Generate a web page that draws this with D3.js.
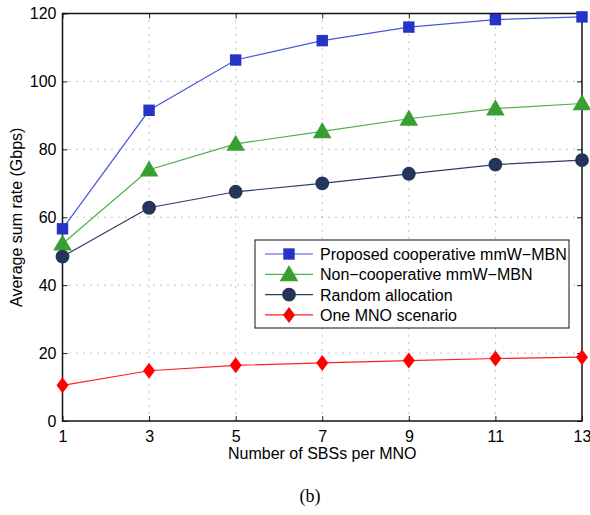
<!DOCTYPE html>
<html>
<head>
<meta charset="utf-8">
<script src="https://cdn.jsdelivr.net/npm/d3@7"></script>
<style>
  body { margin: 0; background: #fff; }
  text { font-family: "Liberation Sans", Arial, sans-serif; }
</style>
</head>
<body>
<svg width="590" height="515"></svg>
<script>
const xValues = [1, 3, 5, 7, 9, 11, 13];
const proposed = [56.6, 91.5, 106.3, 112, 116, 118.2, 119];
const nonCoop = [52.2, 74, 81.6, 85.3, 89, 92, 93.5];
const randomAlloc = [48.4, 62.8, 67.5, 70, 72.8, 75.5, 76.8];
const oneMno = [10.5, 14.8, 16.4, 17.1, 17.8, 18.4, 18.8];
const yTicks = [0, 20, 40, 60, 80, 100, 120];
const seriesNames = [
  "Proposed cooperative mmW\u2212MBN",
  "Non\u2212cooperative mmW\u2212MBN",
  "Random allocation",
  "One MNO scenario",
];

const series = [
  { name: seriesNames[0], values: proposed, line: "#4a56de", fill: "#2633c9", marker: "square" },
  { name: seriesNames[1], values: nonCoop, line: "#4fae48", fill: "#3a9f33", marker: "triangle" },
  { name: seriesNames[2], values: randomAlloc, line: "#2d3d60", fill: "#233559", marker: "circle" },
  { name: seriesNames[3], values: oneMno, line: "#ff2020", fill: "#ff0000", marker: "diamond" },
];

const svg = d3.select("svg");
const margin = { left: 62.5, right: 8, top: 13.5, bottom: 94 };
const width = 590, height = 515;
const inner = {
  width: width - margin.left - margin.right,
  height: height - margin.top - margin.bottom,
};

const xScale = d3.scaleLinear().domain([1, 13]).range([0, inner.width]);
const yScale = d3.scaleLinear().domain([0, 120]).range([inner.height, 0]);

const g = svg.append("g").attr("transform", `translate(${margin.left},${margin.top})`);

// dotted grid
g.append("g")
  .selectAll("line")
  .data(xValues.slice(1, -1))
  .join("line")
  .attr("x1", (d) => xScale(d)).attr("x2", (d) => xScale(d))
  .attr("y1", 0).attr("y2", inner.height)
  .attr("stroke", "#888").attr("stroke-width", 1)
  .attr("stroke-dasharray", "1,6");
g.append("g")
  .selectAll("line")
  .data(yTicks.slice(1, -1))
  .join("line")
  .attr("x1", 0).attr("x2", inner.width)
  .attr("y1", (d) => yScale(d)).attr("y2", (d) => yScale(d))
  .attr("stroke", "#888").attr("stroke-width", 1)
  .attr("stroke-dasharray", "1,6");

// axes with inward ticks
const xAxis = d3.axisBottom(xScale).tickValues(xValues).tickSize(-5).tickPadding(10);
const yAxis = d3.axisLeft(yScale).tickValues(yTicks).tickSize(-5).tickPadding(6);

const styleAxis = (sel) => {
  sel.select(".domain").remove();
  sel.selectAll(".tick line").attr("stroke", "#222");
  sel.selectAll(".tick text").attr("font-size", 16).attr("fill", "#000")
    .style("font-family", "'Liberation Sans', Arial, sans-serif");
};

g.append("g").attr("transform", `translate(0,${inner.height})`).call(xAxis).call(styleAxis);
g.append("g").call(yAxis).call(styleAxis);
g.append("g").call(d3.axisTop(xScale).tickValues(xValues).tickSize(-5).tickFormat(""))
  .call(styleAxis);
g.append("g").attr("transform", `translate(${inner.width},0)`)
  .call(d3.axisRight(yScale).tickValues(yTicks).tickSize(-5).tickFormat(""))
  .call(styleAxis);

// frame
g.append("rect")
  .attr("width", inner.width).attr("height", inner.height)
  .attr("fill", "none").attr("stroke", "#111").attr("stroke-width", 1.5);

const symbolFor = (m) => {
  if (m === "square") return d3.symbol().type(d3.symbolSquare).size(130)();
  if (m === "triangle") return d3.symbol().type(d3.symbolTriangle).size(150)();
  if (m === "circle") return d3.symbol().type(d3.symbolCircle).size(150)();
  return "M0,-8L6,0L0,8L-6,0Z";
};

const line = d3.line().x((d, i) => xScale(xValues[i])).y((d) => yScale(d));

series.forEach((s) => {
  g.append("path")
    .datum(s.values)
    .attr("fill", "none")
    .attr("stroke", s.line)
    .attr("stroke-width", 1.2)
    .attr("d", line);
  g.append("g")
    .selectAll("path")
    .data(s.values)
    .join("path")
    .attr("transform", (d, i) => `translate(${xScale(xValues[i])},${yScale(d) + (s.marker === "triangle" ? 1.5 : 0)})`)
    .attr("d", symbolFor(s.marker))
    .attr("fill", s.fill);
});

// legend
const legend = svg.append("g").attr("transform", "translate(255,240)");
legend.append("rect")
  .attr("width", 314).attr("height", 88)
  .attr("fill", "#fff").attr("stroke", "#111").attr("stroke-width", 1);
series.forEach((s, i) => {
  const y = 14 + i * 20.3;
  const row = legend.append("g").attr("transform", `translate(0,${y})`);
  row.append("line").attr("x1", 10).attr("x2", 58).attr("y1", 0).attr("y2", 0)
    .attr("stroke", s.line).attr("stroke-width", 1.2);
  row.append("path").attr("d", symbolFor(s.marker))
    .attr("transform", `translate(34,${s.marker === "triangle" ? 1.5 : 0})`)
    .attr("fill", s.fill);
  row.append("text").attr("x", 65).attr("y", 6)
    .attr("font-size", 16).text(s.name);
});

// axis titles
svg.append("text")
  .attr("x", margin.left + inner.width / 2).attr("y", 459)
  .attr("text-anchor", "middle").attr("font-size", 16)
  .text("Number of SBSs per MNO");
svg.append("text")
  .attr("transform", `translate(22,${margin.top + inner.height / 2}) rotate(-90)`)
  .attr("text-anchor", "middle").attr("font-size", 16)
  .text("Average sum rate (Gbps)");
svg.append("text")
  .attr("x", 310).attr("y", 502)
  .attr("text-anchor", "middle").attr("font-size", 18)
  .style("font-family", "'Liberation Serif', 'Times New Roman', serif")
  .text("(b)");
</script>
</body>
</html>
